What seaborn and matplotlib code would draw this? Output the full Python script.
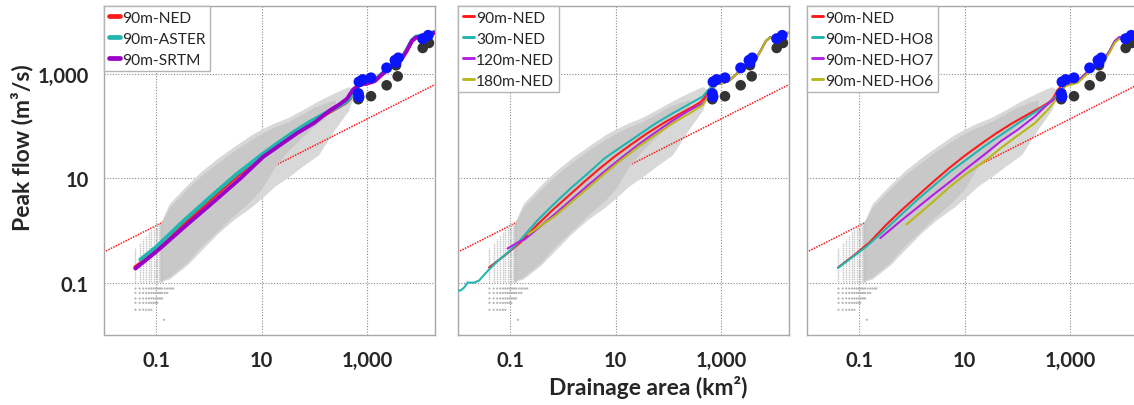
import numpy as np
import pandas as pd
import matplotlib
matplotlib.use("Agg")
import matplotlib.pyplot as plt
from matplotlib.lines import Line2D
import seaborn as sns

sns.set_style("white")
plt.rcParams['font.family'] = ['Lato', 'DejaVu Sans']

# ---------------------------------------------------------------- data
# dense core of the simulated-vs-area point cloud (km2, m3/s)
core_area = [0.1175, 0.1778, 0.389, 0.708, 1.479, 3.02, 6.31, 10.0, 17.78,
             31.62, 57.54, 100.0, 158.5, 251.2]
core_low = [0.1096, 0.1318, 0.2512, 0.5012, 1.0, 1.995, 3.802, 6.31, 16.6,
            33.11, 60.26, 100.0, 144.5, 223.9]
core_high = [1.259, 2.818, 6.31, 11.22, 19.95, 33.88, 54.95, 72.44, 95.5,
             120.2, 166.0, 229.1, 275.4, 316.2]
# sparse fringe of the same cloud
fringe_area = [0.1175, 0.1778, 0.389, 0.708, 1.479, 3.02, 6.31, 10.0, 17.78,
               31.62, 57.54, 120.2, 251.2, 446.7, 549.5]
fringe_low = [0.1072, 0.1202, 0.2239, 0.4169, 0.8913, 1.660, 2.818, 4.169,
              7.079, 10.47, 16.6, 28.18, 89.13, 199.5, 354.8]
fringe_high = [1.318, 3.311, 7.586, 13.49, 24.55, 40.74, 67.61, 87.1, 114.8,
               144.5, 199.5, 302.0, 436.5, 562.3, 501.2]

# small basins: discrete cell-count areas shown as columns of points
column_area = [0.0405, 0.0486, 0.0567, 0.0648, 0.0729, 0.0810, 0.0891, 0.0972,
               0.1053, 0.1134, 0.1215, 0.1296]
column_top = [0.468, 0.589, 0.692, 0.813, 0.933, 1.072, 1.202, 1.318, 1.380,
              1.413, 1.413, 1.413]
column_bottom = 0.107
row_area = [0.0405, 0.0486, 0.0567, 0.0648, 0.0729, 0.0810, 0.0891, 0.0972,
            0.1053, 0.1134, 0.1215, 0.1296, 0.1458, 0.1620, 0.1782, 0.1944, 0.2106]
row_flow = [0.079, 0.065, 0.051, 0.042, 0.031]
row_count = [17, 14, 12, 9, 6]
lone_area = [0.14]
lone_flow = [0.020]

# regional regression line
reg_area = [0.0100, 19500.0]
reg_flow = [0.389, 617.0]

# gauged basins: observed (blue) and regression estimate (dark grey)
obs_area = [705, 829, 684, 705, 1190, 2360, 3400, 3920, 3550, 11380, 14500]
obs_flow = [695, 769, 416, 360, 829, 1285, 1791, 1992, 1620, 4640, 5370]
est_area = [684, 1190, 2360, 3820, 3550, 11380, 14960]
est_flow = [324, 370, 598, 887, 1442, 3080, 3840]

# simulated peak-flow curves (area km2, flow m3/s)
tail_area = [692, 832, 1000, 1413, 1995, 2818, 3548, 4467, 5623, 7079, 8511,
             11220, 14125, 18621]
tail_flow = [589, 631, 646, 724, 1000, 1349, 1585, 1862, 2692, 4169, 4898,
             5012, 5129, 6026]

ned90_area = [0.0398, 0.0794, 0.158, 0.316, 0.631, 1.259, 2.512, 5.012, 10.0,
              19.95, 39.81, 79.43, 158.5, 281.8, 398.1, 478.6, 575.4] + tail_area
ned90_flow = [0.1995, 0.339, 0.603, 1.259, 2.455, 4.571, 8.511, 15.49, 26.92,
              44.67, 72.44, 112.2, 166.0, 229.1, 281.8, 338.8, 478.6] + tail_flow

aster_area = [0.0501, 0.100, 0.316, 1.0, 3.162, 10.0, 19.95, 39.81, 79.43,
              158.5, 281.8, 398.1, 478.6, 575.4] + tail_area
aster_flow = [0.282, 0.490, 1.479, 4.169, 11.48, 28.18, 46.77, 75.86, 117.5,
              173.8, 234.4, 288.4, 346.7, 490.0] + [v * 1.04 for v in tail_flow]

srtm_area = [0.0405, 0.100, 0.389, 1.259, 3.981, 10.72, 46.77, 100.0, 199.5,
             309.0, 416.9, 549.5] + tail_area
srtm_flow = [0.190, 0.398, 1.318, 3.631, 10.0, 25.70, 72.44, 114.8, 199.5,
             263.0, 331.1, 501.2] + tail_flow

ned30_area = [0.0089, 0.0115, 0.0135, 0.0155, 0.0209, 0.0257, 0.0372, 0.0575,
              0.0891, 0.1413, 0.2042, 0.3388, 0.7079, 1.479, 3.02, 6.31, 13.18,
              27.54, 57.54, 120.2, 251.2, 446.7, 602.6] + tail_area[1:]
ned30_flow = [0.0724, 0.0724, 0.0832, 0.1023, 0.1023, 0.1122, 0.1698, 0.263,
              0.380, 0.589, 0.912, 1.622, 3.388, 6.761, 12.59, 24.55, 40.74,
              67.61, 112.2, 173.8, 263.0, 363.1, 512.9] + tail_flow[1:]

ned120_area = [0.0891, 0.1413, 0.1862, 0.3388, 0.7079, 1.479, 3.02, 6.31,
               13.18, 27.54, 57.54, 120.2, 251.2, 446.7, 602.6] + tail_area[1:]
ned120_flow = [0.457, 0.603, 0.676, 1.122, 2.089, 3.981, 7.413, 13.80, 25.12,
               44.67, 75.86, 125.9, 199.5, 269.2, 416.9] + tail_flow[1:]

ned180_area = [0.2188, 0.7079, 3.02, 6.31, 13.18, 27.54, 57.54, 120.2, 251.2,
               446.7, 602.6] + tail_area[1:]
ned180_flow = [0.851, 1.905, 6.607, 12.59, 22.91, 40.74, 67.61, 112.2, 173.8,
               251.2, 389.0] + tail_flow[1:]

ho8_area = [0.0398, 0.138, 0.288, 1.259, 5.370, 23.44, 102.3, 380.2, 588.8] + tail_area[1:]
ho8_flow = [0.195, 0.501, 0.977, 3.890, 13.49, 40.74, 112.2, 263.0, 389.0] + tail_flow[1:]

ho7_area = [0.2512, 0.6026, 2.570, 5.370, 11.22, 23.44, 48.98, 102.3, 213.8,
            380.2, 588.8] + tail_area[1:]
ho7_flow = [0.724, 1.514, 4.898, 8.710, 15.85, 28.18, 51.29, 85.11, 151.4,
            263.0, 363.1] + tail_flow[1:]

ho6_area = [0.7943, 2.570, 5.370, 11.22, 23.44, 48.98, 102.3, 213.8, 380.2,
            512.9, 631.0] + tail_area[1:]
ho6_flow = [1.318, 3.631, 7.079, 12.59, 20.89, 38.02, 66.07, 112.2, 204.2,
            295.1, 389.0] + [v * 0.93 for v in tail_flow[1:]]

RED = '#ff1a1a'
TEAL = '#22b5b0'
PURPLE = '#9a00c8'
MAGENTA = '#b520e6'
OLIVE = '#b8b81a'

panels = [
    dict(lw=2.8, curves=[('90m-NED', ned90_area, ned90_flow, RED),
                         ('90m-ASTER', aster_area, aster_flow, TEAL),
                         ('90m-SRTM', srtm_area, srtm_flow, PURPLE)]),
    dict(lw=1.5, curves=[('90m-NED', ned90_area, ned90_flow, RED),
                         ('30m-NED', ned30_area, ned30_flow, TEAL),
                         ('120m-NED', ned120_area, ned120_flow, MAGENTA),
                         ('180m-NED', ned180_area, ned180_flow, OLIVE)]),
    dict(lw=1.5, curves=[('90m-NED', ned90_area, ned90_flow, RED),
                         ('90m-NED-HO8', ho8_area, ho8_flow, TEAL),
                         ('90m-NED-HO7', ho7_area, ho7_flow, MAGENTA),
                         ('90m-NED-HO6', ho6_area, ho6_flow, OLIVE)]),
]

# ---------------------------------------------------------------- figure
W, H = 1134, 406
fig = plt.figure(figsize=(W / 100, H / 100), dpi=100)
lefts = [104, 458, 807]
ax_w, ax_h, ax_top = 331, 329, 7

ticks = [0.1, 10, 1000]
tick_labels = ['0.1', '10', '1,000']
lim = (10 ** -1.99, 10 ** 4.29)

for i, (left, spec) in enumerate(zip(lefts, panels)):
    ax = fig.add_axes([left / W, (H - ax_top - ax_h) / H, ax_w / W, ax_h / H])
    ax.set_xscale('log')
    ax.set_yscale('log')
    ax.set_xlim(*lim)
    ax.set_ylim(*lim)
    ax.set_xticks(ticks)
    ax.set_yticks(ticks)
    ax.minorticks_off()
    ax.set_xticklabels(tick_labels)
    ax.set_yticklabels(tick_labels if i == 0 else [])
    ax.tick_params(length=0, pad=11, labelsize=14.5)
    for lab in ax.get_xticklabels() + ax.get_yticklabels():
        lab.set_fontweight('bold')
    ax.grid(True, which='major', color='#8a8a8a', linestyle=(0, (1, 1.5)), lw=0.8)
    ax.set_axisbelow(True)
    for s in ax.spines.values():
        s.set_color('#a8a8a8')
        s.set_linewidth(1.0)

    # point cloud: sparse fringe under the regression line, dense core above
    ax.fill_between(fringe_area, fringe_low, fringe_high, color='#d8d8d8', lw=0,
                    zorder=1.5)
    sns.lineplot(x=reg_area, y=reg_flow, ax=ax, color=RED, lw=1.1,
                 linestyle=(0, (1, 0.8)), zorder=2)
    ax.fill_between(core_area, core_low, core_high, color='#c8c8c8', lw=0, zorder=3)
    ax.vlines(column_area, column_bottom, column_top, color='#c2c2c2', lw=1.0,
              linestyles=(0, (1, 0.6)), zorder=3)
    rx, ry = [], []
    for f, n in zip(row_flow, row_count):
        rx += row_area[:n]
        ry += [f] * n
    sns.scatterplot(x=rx + lone_area, y=ry + lone_flow, ax=ax, s=2.5,
                    color='#b5b5b5', edgecolor='none', zorder=3)

    # simulated curves
    handles = []
    for label, xa, ya, col in spec['curves']:
        sns.lineplot(x=xa, y=ya, ax=ax, color=col, lw=spec['lw'], sort=False,
                     estimator=None, zorder=4)
        handles.append(Line2D([], [], color=col, lw=spec['lw'] + 0.6, label=label))

    # gauged basins
    sns.scatterplot(x=est_area, y=est_flow, ax=ax, s=58, color='#333333',
                    edgecolor='none', zorder=5)
    sns.scatterplot(x=obs_area, y=obs_flow, ax=ax, s=62, color='#0a14ff',
                    edgecolor='none', zorder=6)

    leg = ax.legend(handles=handles, loc='upper left', borderaxespad=0,
                    handlelength=0.7, handletextpad=0.15, labelspacing=0.45,
                    borderpad=0.3, fontsize=11.2, frameon=True, fancybox=False,
                    framealpha=1, edgecolor='#b5b5b5')
    leg.get_frame().set_linewidth(1.0)
    leg.set_zorder(10)
    ax.set_xlabel('')
    ax.set_ylabel('')

fig.text(22 / W, 1 - 148 / H, 'Peak flow (m\u00b3/s)', rotation=90, ha='center',
         va='center', fontsize=16.5, fontweight='bold')
fig.text(648 / W, 1 - 388 / H, 'Drainage area (km\u00b2)', ha='center', va='center',
         fontsize=16.5, fontweight='bold')

fig.savefig('out.png', dpi=100)
